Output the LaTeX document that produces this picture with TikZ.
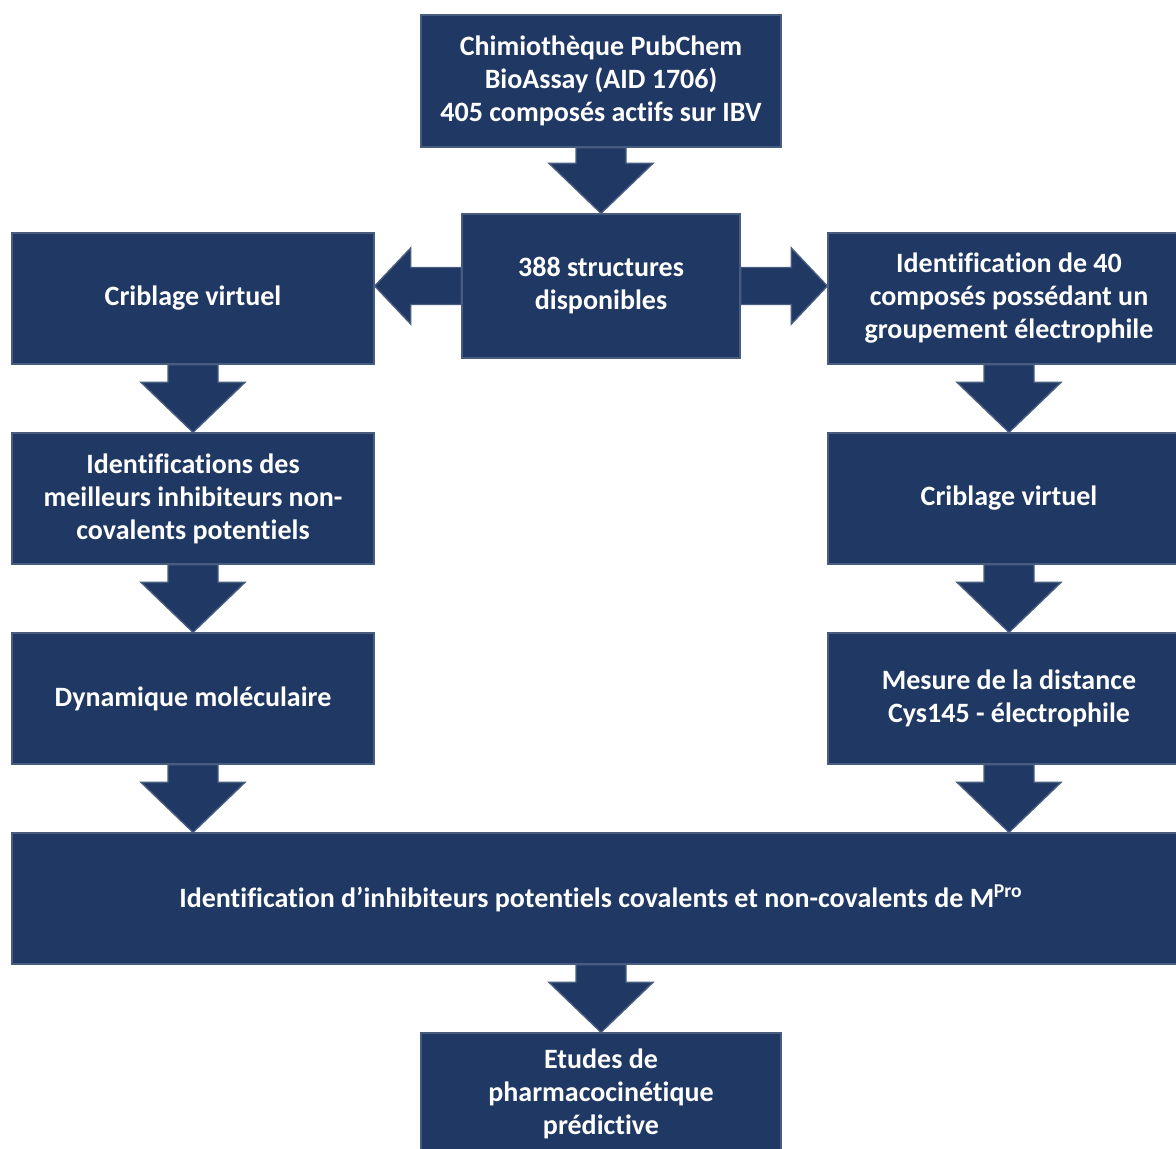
\documentclass[tikz,border=0pt]{standalone}
\usepackage{fontspec}
\setmainfont[Ligatures={NoCommon,NoContextual}]{Carlito}
\usetikzlibrary{calc}
\definecolor{navy}{RGB}{32,56,100}
\definecolor{rim}{RGB}{72,92,128}

\begin{document}
\begin{tikzpicture}[x=0.5pt, y=-0.5pt,
  box/.style={rectangle, fill=navy, draw=rim, line width=0.7pt, text=white,
    font=\fontsize{14}{16.5}\selectfont\bfseries, align=center, inner sep=0pt,
    minimum width=181pt, minimum height=65.5pt},
  fat/.style args={#1/#2/#3}{fill=navy, draw=rim, line width=0.7pt,
    to path={($(\tikztostart)!#1!90:(\tikztotarget)$)
      -- ($(\tikztotarget)!#3!(\tikztostart)!#1!90:(\tikztotarget)$)
      -- ($(\tikztotarget)!#3!(\tikztostart)!#2!90:(\tikztotarget)$)
      -- (\tikztotarget)
      -- ($(\tikztotarget)!#3!(\tikztostart)!#2!-90:(\tikztotarget)$)
      -- ($(\tikztotarget)!#3!(\tikztostart)!#1!-90:(\tikztotarget)$)
      -- ($(\tikztostart)!#1!-90:(\tikztotarget)$) -- cycle}},
  down/.style={fat=12.5pt/26pt/25pt},
  side/.style={fat=9.25pt/19pt/18pt}]
  \clip (0,0) rectangle (1176,1148);

  % source and filtered set
  \node[box, minimum width=180pt, minimum height=66pt] (lib) at (601,81)
    {Chimiothèque PubChem\\BioAssay (AID 1706)\\405 composés actifs sur IBV};
  \node[box, minimum width=139pt, minimum height=72pt] (avail) at (601,286)
    {388 structures\\disponibles};

  % left branch: non-covalent
  \node[box] (vsL) at (193,298.5) {Criblage virtuel};
  \node[box] (bestL) at (193,498.5)
    {Identifications des\\meilleurs inhibiteurs non-\\covalents potentiels};
  \node[box] (dynL) at (193,698.5) {Dynamique moléculaire};

  % right branch: covalent
  \node[box] (elecR) at (1009,298.5)
    {Identification de 40\\composés possédant un\\groupement électrophile};
  \node[box] (vsR) at (1009,498.5) {Criblage virtuel};
  \node[box] (distR) at (1009,698.5) {Mesure de la distance\\Cys145 - électrophile};

  % merge and follow-up
  \node[box, minimum width=589pt] (hits) at (601,898.5)
    {Identification d’inhibiteurs potentiels covalents et non-covalents de M\textsuperscript{Pro}};
  \node[box, minimum width=180pt, minimum height=61pt] (pk) at (601,1094)
    {Etudes de\\pharmacocinétique\\prédictive};

  \coordinate (avL) at (avail.west -| vsL.east);
  \coordinate (avR) at (avail.east -| elecR.west);
  \coordinate (dynIn) at (dynL.south |- hits.north);
  \coordinate (distIn) at (distR.south |- hits.north);

  % block arrows
  \draw[down] (lib.south) to (avail.north);
  \draw[side] (avail.west) to (avL);
  \draw[side] (avail.east) to (avR);
  \draw[down] (vsL.south) to (bestL.north);
  \draw[down] (bestL.south) to (dynL.north);
  \draw[down] (dynL.south) to (dynIn);
  \draw[down] (elecR.south) to (vsR.north);
  \draw[down] (vsR.south) to (distR.north);
  \draw[down] (distR.south) to (distIn);
  \draw[down] (hits.south) to (pk.north);
\end{tikzpicture}
\end{document}
